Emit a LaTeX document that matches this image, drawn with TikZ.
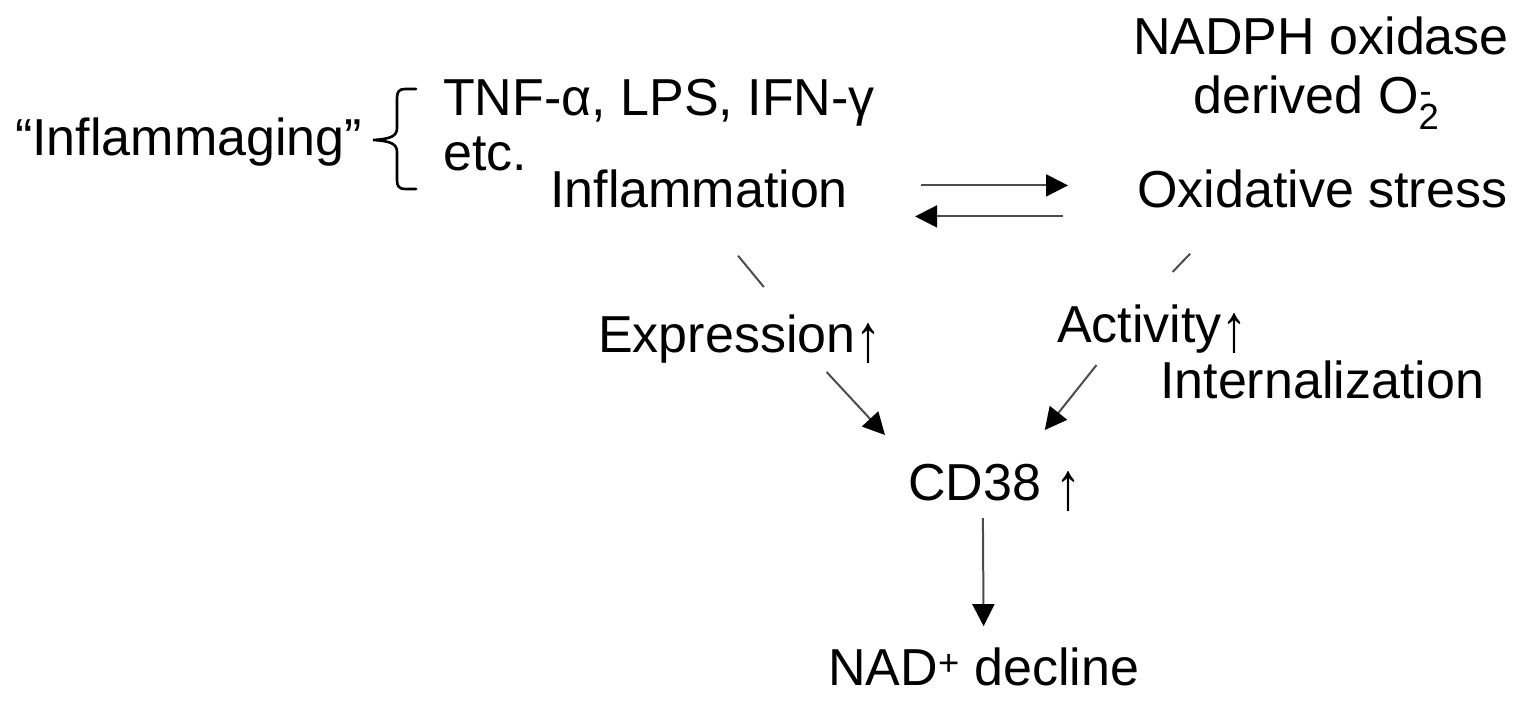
\documentclass[tikz,border=0pt]{standalone}
\usepackage{fontspec}
\usepackage{graphicx}
\setmainfont{Liberation Sans}
\usetikzlibrary{arrows.meta}

\newcommand{\uparr}{\raisebox{-9pt}{\scalebox{1}[1.3]{↑}}}

\begin{document}
\begin{tikzpicture}[
    x=1pt, y=-1pt,
    lbl/.style={font=\fontsize{52}{58}\selectfont, inner sep=0pt, anchor=base west},
    link/.style={line width=2pt, draw=black!70},
    arrow/.style={link, -{Triangle[length=22pt, width=22pt, color=black]}},
    curly/.style={line width=2.6pt, line cap=round}
  ]
    \useasboundingbox (0,0) rectangle (1528,701);
    \node[lbl] (aging) at (15,155) {“Inflammaging”};
    \node[lbl] (cyto) at (443,115) {TNF-α, LPS, IFN-γ};
    \node[lbl] (etc) at (443,170) {etc.};
    \node[lbl] (infl) at (550,207) {Inflammation};
    \node[lbl] (nox) at (1133,55) {NADPH oxidase};
    \node[lbl] (supox) at (1193,113) {derived O\rlap{\kern1pt\textsuperscript{-}}\textsubscript{2}};
    \node[lbl] (oxid) at (1137,207) {Oxidative stress};
    \node[lbl] (expr) at (598,352) {Expression\uparr};
    \node[lbl] (act) at (1057,342) {Activity\uparr};
    \node[lbl] (intern) at (1160,398) {Internalization};
    \node[lbl] (cd38) at (908,500) {CD38 \uparr};
    \node[lbl] (nad) at (828,685) {NAD\textsuperscript{+} decline};
    % brace
    \coordinate (braceT) at (416,89);
    \coordinate (braceB) at (416,189);
    \coordinate (braceTip) at (373,140);
    \draw[curly] (braceT) -- (405,89) .. controls (399,89) and (397,92) .. (397,98)
      -- (397,128) .. controls (397,136) and (391,139) .. (braceTip)
      .. controls (391,141) and (397,144) .. (397,152)
      -- (397,180) .. controls (397,186) and (399,189) .. (405,189) -- (braceB);
    % inflammation <-> oxidative stress
    \draw[arrow, shorten <=73pt, shorten >=69pt] ([yshift=3pt]infl.east) -- ([yshift=3pt]oxid.west);
    \draw[arrow, shorten <=74pt, shorten >=67pt] ([yshift=-28pt]oxid.west) -- ([yshift=-28pt]infl.east);
    % to the labels
    \draw[link] ([xshift=39pt, yshift=-48pt]infl.south) -- ([xshift=24pt, yshift=65pt]expr.base);
    \draw[link] ([xshift=-132pt, yshift=-46pt]oxid.south) -- ([xshift=20pt, yshift=70pt]act.base);
    % to CD38
    \draw[arrow] ([xshift=-55pt, yshift=-20pt]expr.base east) -- ([xshift=-23pt, yshift=65pt]cd38.base west);
    \draw[arrow] ([xshift=-56pt, yshift=-23pt]act.base) -- ([xshift=-37pt, yshift=70pt]cd38.base east);
    \draw[arrow] ([xshift=-12pt, yshift=-18pt]cd38.base) -- ([yshift=21pt]nad.north);
  \end{tikzpicture}
\end{document}
